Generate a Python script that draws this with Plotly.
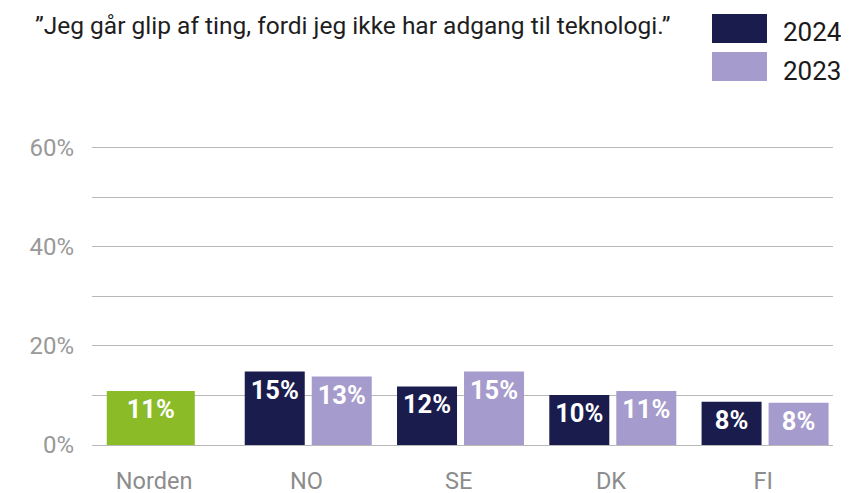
import plotly.graph_objects as go

# ---- data ----
categories = ["Norden", "NO", "SE", "DK", "FI"]
countries = ["NO", "SE", "DK", "FI"]
norden_value = [10.9]
norden_label = ["11%"]
values_2024 = [14.8, 11.8, 10.1, 8.7]
labels_2024 = ["15%", "12%", "10%", "8%"]
values_2023 = [13.8, 14.8, 10.9, 8.5]
labels_2023 = ["13%", "15%", "11%", "8%"]
y_tickvals = [0, 10, 20, 30, 40, 50, 60]
y_ticktext = ["0%", "", "20%", "", "40%", "", "60%"]
title_text = "\u201dJeg går glip af ting, fordi jeg ikke har adgang til teknologi.\u201d"
legend_years = ["2024", "2023"]

# ---- style ----
FONT = "Roboto, Arial, sans-serif"
NAVY = "#1a1c4e"
PURPLE = "#a59bcc"
GREEN = "#8bbb27"
GRID = "#b8b8b8"

# the page body has an 8px default margin: build the figure in page pixels minus 8
OFF = 8
W, H = 849 - OFF, 493 - OFF
ML = 92 - OFF            # plot left at page x=92
MR = W - (833 - OFF)     # plot right at page x=833
MT = 145 - OFF           # plot top at page y=145
MB = H - (445 - OFF)     # zero line at page y=445
PW = W - ML - MR
PH = H - MT - MB
YMAX = 60.5


def px_x(p):
    return (p - OFF - ML) / PW


def px_y(p):
    return (H - MB - (p - OFF)) / PH


fig = go.Figure()

text_font = dict(family=FONT, size=25.5, color="white", weight="bold")
common = dict(textposition="inside", insidetextanchor="end", textangle=0,
              constraintext="none", showlegend=False, hoverinfo="skip",
              marker_line_width=0, cliponaxis=False)

fig.add_trace(go.Bar(x=["Norden"], y=norden_value, text=norden_label,
                     width=0.578, offset=-0.311, marker_color=GREEN,
                     textfont=text_font, **common))
fig.add_trace(go.Bar(x=countries, y=values_2024, text=labels_2024,
                     width=0.394, offset=-0.405, marker_color=NAVY,
                     textfont=text_font, **common))
fig.add_trace(go.Bar(x=countries, y=values_2023, text=labels_2023,
                     width=0.394, offset=0.035, marker_color=PURPLE,
                     textfont=text_font, **common))

# legend drawn manually (large swatches)
shapes = []
annotations = []
legend_rows = [(14, 43, 32, NAVY), (52, 81, 71, PURPLE)]
for year, (top, bot, mid, col) in zip(legend_years, legend_rows):
    shapes.append(dict(type="rect", xref="paper", yref="paper",
                       x0=px_x(712), x1=px_x(767), y0=px_y(bot), y1=px_y(top),
                       fillcolor=col, line_width=0))
    annotations.append(dict(text=year, xref="paper", yref="paper",
                            x=px_x(781), y=px_y(mid), xanchor="left",
                            yanchor="middle", showarrow=False,
                            font=dict(family=FONT, size=26, color="#1a1a1a")))

annotations.append(dict(text=title_text, xref="paper", yref="paper",
                        x=px_x(33), y=px_y(26), xanchor="left",
                        yanchor="middle", showarrow=False,
                        font=dict(family=FONT, size=24.5, color="#1e1e1e")))

fig.update_layout(
    template="none",
    width=W, height=H,
    margin=dict(l=ML, r=MR, t=MT, b=MB, pad=0, autoexpand=False),
    paper_bgcolor="white", plot_bgcolor="white",
    barmode="overlay",
    font=dict(family=FONT),
    shapes=shapes,
    annotations=annotations,
    xaxis=dict(type="category", categoryorder="array", categoryarray=categories,
               range=[-0.408, 4.458], showgrid=False, showline=False,
               zeroline=False, ticks="", ticklabelstandoff=19, automargin=False,
               tickfont=dict(family=FONT, size=23.5, color="#8c8c8c"),
               fixedrange=True),
    yaxis=dict(range=[0, YMAX], tickvals=y_tickvals, ticktext=y_ticktext,
               showgrid=True, gridcolor=GRID, gridwidth=1,
               zeroline=True, zerolinecolor=GRID, zerolinewidth=1,
               showline=False, ticks="", ticklabelstandoff=17, automargin=False,
               tickfont=dict(family=FONT, size=24, color="#999999"),
               fixedrange=True),
)

fig.write_html("out.html")
